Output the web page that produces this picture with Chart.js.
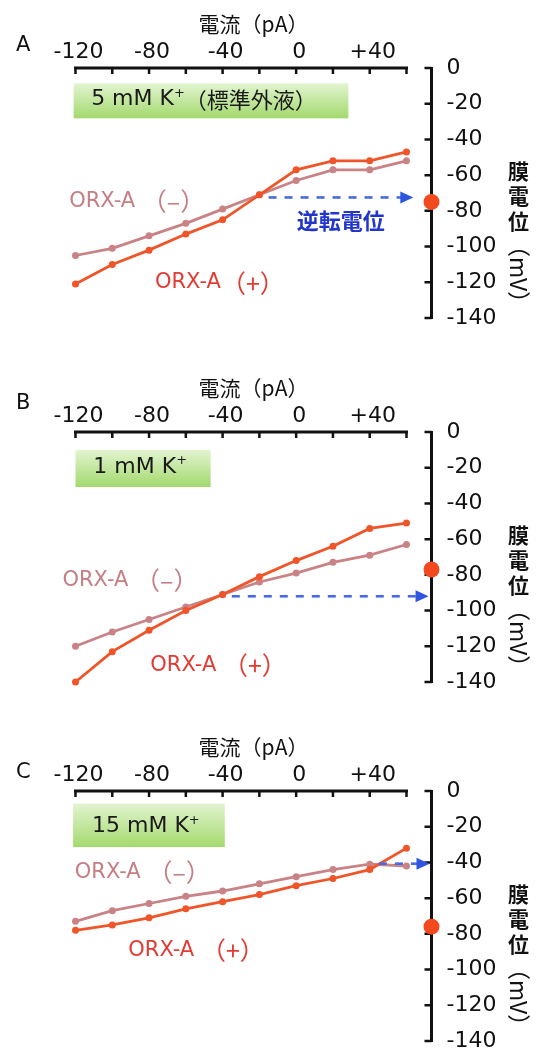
<!DOCTYPE html>
<html><head><meta charset="utf-8">
<script src="https://cdn.jsdelivr.net/npm/chart.js@4.4.1/dist/chart.umd.min.js"></script>
<style>
html,body{margin:0;padding:0;background:#fff;width:539px;height:1054px;overflow:hidden;}
.panel{position:absolute;left:0;width:539px;height:331px;}
canvas{display:block;}
</style></head><body>
<div class="panel" style="top:0px"><canvas id="cA" width="539" height="331"></canvas></div>
<div class="panel" style="top:364px"><canvas id="cB" width="539" height="331"></canvas></div>
<div class="panel" style="top:723px"><canvas id="cC" width="539" height="331"></canvas></div>
<script>
// ---------- data ----------
const currents = [-120, -100, -80, -60, -40, -20, 0, 20, 40, 60]; // pA
const aMinus = [-105, -101, -94, -87, -79, -71, -63, -57, -57, -52];
const aPlus  = [-121, -110, -102, -93, -85, -71, -57, -52, -52, -47];
const bMinus = [-120, -112, -105, -98, -91, -84, -79, -73, -69, -63];
const bPlus  = [-140, -123, -111, -100, -91, -81, -72, -64, -54, -51];
const cMinus = [-73, -67, -63, -59, -56, -52, -48, -44, -41, -42];
const cPlus  = [-78, -75, -71, -66, -62, -58, -53, -49, -44, -32];
const restingPotentials = [-75, -77, -76];      // red dot on the axis (mV)
const reversalPotentials = [-72.5, -92, -40.7]; // blue arrow level (mV)
const reversalCurrents = [-15, -35, 45];        // where the arrow starts (pA)

const xTickValues = [-120, -80, -40, 0, 40];
const xTickLabels = ['-120', '-80', '-40', '0', '+40'];
const yTickValues = [0, -20, -40, -60, -80, -100, -120, -140];
const yTickLabels = ['0', '-20', '-40', '-60', '-80', '-100', '-120', '-140'];
const xTitle = '電流（pA）';
const yTitleChars = ['膜', '電', '位'];
const yTitleUnit = '（mV）';
const panelLetters = ['A', 'B', 'C'];
const mediumMain = ['5 mM K', '1 mM K', '15 mM K'];
const mediumSuffix = ['（標準外液）', '', ''];
const minusLabel = ['ORX-A ', 'ORX-A ', 'ORX-A '];
const plusLabel = ['ORX-A', 'ORX-A ', 'ORX-A '];
const reversalText = '逆転電位';

// ---------- style ----------
const SANS = "'DejaVu Sans', 'Noto Sans CJK JP', sans-serif";
const CJK = "'Noto Sans CJK JP', 'DejaVu Sans', sans-serif";
const PLUS = '#ef5529';
const MINUS = '#c98285';
const PLUS_TXT = '#e33b33';
const MINUS_TXT = '#c47e84';
const BLUE = '#2f55e0';

// annotation placement in data units
const layouts = [
  {box: [-121, 28.4, -8.6, -28.2], boxText: [-111.5, -17.6], minus: [-123.4, -75], plus: [-76.8, -120.4],
   arrowTo: 63.7, revText: [0.3, -85.7], letterDy: 22},
  {box: [-120, -46.5, -10, -30.8], boxText: [-110.3, -19.5], minus: [-127.1, -83.1], plus: [-79.3, -130.7],
   arrowTo: 72, revText: null, letterDy: 28},
  {box: [-121.3, -38.8, -7.1, -31.4], boxText: [-111, -19.8], minus: [-120.4, -45.4], plus: [-91.3, -89.3],
   arrowTo: 72.5, revText: null, letterDy: 18}
];

function drawRuns(ctx, x, y, runs) {
  ctx.textAlign = 'left';
  ctx.textBaseline = 'middle';
  for (const r of runs) {
    if (!r.text) continue;
    ctx.font = r.font;
    ctx.fillStyle = r.color;
    ctx.fillText(r.text, x, y + (r.dy || 0));
    x += ctx.measureText(r.text).width;
  }
}

const decor = {
  id: 'decor',
  beforeDatasetsDraw(chart, args, o) {
    const {ctx, scales: {x, y}} = chart;
    const L = layouts[o.i];
    ctx.save();
    const bx0 = x.getPixelForValue(L.box[0]), bx1 = x.getPixelForValue(L.box[1]);
    const by0 = y.getPixelForValue(L.box[2]), by1 = y.getPixelForValue(L.box[3]);
    const g = ctx.createLinearGradient(0, by0, 0, by1);
    g.addColorStop(0, '#e2f4d0');
    g.addColorStop(1, '#a3d96d');
    ctx.fillStyle = g;
    ctx.fillRect(bx0, by0, bx1 - bx0, by1 - by0);
    drawRuns(ctx, x.getPixelForValue(L.boxText[0]), y.getPixelForValue(L.boxText[1]), [
      {text: mediumMain[o.i], font: '22px ' + SANS, color: '#1a1a1a'},
      {text: '+', font: '13px ' + SANS, color: '#1a1a1a', dy: -6},
      {text: mediumSuffix[o.i], font: '22px ' + CJK, color: '#1a1a1a'}
    ]);
    ctx.restore();
  },
  afterDatasetsDraw(chart, args, o) {
    const {ctx, chartArea: ca, scales: {x, y}} = chart;
    const L = layouts[o.i];
    ctx.save();
    // top x axis line with downward ticks
    const ticks = x.ticks.map(t => t.value);
    const xl = x.getPixelForValue(ticks[0]);
    const xr = x.getPixelForValue(ticks[ticks.length - 1]);
    ctx.strokeStyle = '#111';
    ctx.lineWidth = 3;
    ctx.beginPath();
    ctx.moveTo(xl - 1.5, ca.top);
    ctx.lineTo(xr + 1.5, ca.top);
    ctx.stroke();
    ctx.lineWidth = 2.5;
    ctx.beginPath();
    ticks.forEach(v => { const px = x.getPixelForValue(v); ctx.moveTo(px, ca.top); ctx.lineTo(px, ca.top + 6); });
    ctx.stroke();
    // y axis inward ticks
    ctx.beginPath();
    y.ticks.forEach(t => { const py = y.getPixelForValue(t.value); ctx.moveTo(ca.right - 7, py); ctx.lineTo(ca.right, py); });
    ctx.stroke();

    // series labels
    drawRuns(ctx, x.getPixelForValue(L.minus[0]), y.getPixelForValue(L.minus[1]), [
      {text: minusLabel[o.i], font: '21px ' + SANS, color: MINUS_TXT},
      {text: '（–）', font: '25px ' + CJK, color: MINUS_TXT}
    ]);
    drawRuns(ctx, x.getPixelForValue(L.plus[0]), y.getPixelForValue(L.plus[1]), [
      {text: plusLabel[o.i], font: '21px ' + SANS, color: PLUS_TXT},
      {text: '（+）', font: '25px ' + CJK, color: PLUS_TXT}
    ]);

    // reversal potential arrow
    const ay = y.getPixelForValue(reversalPotentials[o.i]);
    const ax0 = x.getPixelForValue(reversalCurrents[o.i]);
    const ax1 = x.getPixelForValue(L.arrowTo);
    ctx.strokeStyle = '#4a6ae2';
    ctx.lineWidth = 2.6;
    ctx.setLineDash([8, 8]);
    ctx.beginPath();
    ctx.moveTo(ax0, ay);
    ctx.lineTo(ax1 - 12, ay);
    ctx.stroke();
    ctx.setLineDash([]);
    ctx.fillStyle = BLUE;
    ctx.beginPath();
    ctx.moveTo(ax1, ay);
    ctx.lineTo(ax1 - 13, ay - 6);
    ctx.lineTo(ax1 - 13, ay + 6);
    ctx.closePath();
    ctx.fill();
    if (L.revText) {
      drawRuns(ctx, x.getPixelForValue(L.revText[0]), y.getPixelForValue(L.revText[1]), [
        {text: reversalText, font: 'bold 22px ' + CJK, color: '#2236cc'}
      ]);
    }

    // resting potential dot on the axis
    ctx.fillStyle = '#f24a1e';
    ctx.beginPath();
    ctx.arc(ca.right, y.getPixelForValue(restingPotentials[o.i]), 8, 0, Math.PI * 2);
    ctx.fill();

    // panel letter
    drawRuns(ctx, ca.left - 59.5, ca.top - L.letterDy, [
      {text: panelLetters[o.i], font: '21px ' + SANS, color: '#111'}
    ]);

    // vertical y title
    const tx = ca.right + 87;
    ctx.fillStyle = '#111';
    ctx.textAlign = 'center';
    ctx.textBaseline = 'middle';
    ctx.font = 'bold 21px ' + CJK;
    yTitleChars.forEach((c, i) => ctx.fillText(c, tx, ca.top + 103 + i * 25));
    ctx.translate(tx, ca.top + 166);
    ctx.rotate(Math.PI / 2);
    ctx.textAlign = 'left';
    ctx.font = '23px ' + CJK;
    ctx.fillText(yTitleUnit, 0, 0);
    ctx.restore();
  }
};

function series(vals) { return currents.map((c, i) => ({x: c, y: vals[i]})); }

function makeChart(id, i, minus, plus) {
  const line = (label, vals, col) => ({
    label, data: series(vals), borderColor: col, backgroundColor: col,
    pointBackgroundColor: col, pointBorderColor: col, pointBorderWidth: 0,
    pointRadius: 3.5, borderWidth: 2.8, tension: 0, clip: false, fill: false
  });
  return new Chart(document.getElementById(id), {
    type: 'line',
    data: {datasets: [line('ORX-A（+）', plus, PLUS), line('ORX-A（–）', minus, MINUS)]},
    options: {
      responsive: false, animation: false, devicePixelRatio: 1, events: [],
      layout: {padding: {left: 75.5, right: 0, top: 0, bottom: 13}},
      plugins: {legend: {display: false}, tooltip: {enabled: false}, decor: {i}},
      scales: {
        x: {
          type: 'linear', position: 'top', min: -120, max: 73.6,
          grid: {display: false, drawTicks: false}, border: {display: false},
          ticks: {
            stepSize: 20, includeBounds: false, autoSkip: false, maxRotation: 0, minRotation: 0,
            padding: 3, labelOffset: 3, color: '#111', font: {family: SANS, size: 22},
            callback: v => { const k = xTickValues.indexOf(v); return k >= 0 ? xTickLabels[k] : ''; }
          },
          title: {display: true, text: xTitle, color: '#111', font: {family: CJK, size: 21},
                  padding: {top: 11, bottom: 0}},
          afterFit(s) { s.height = 68; s.paddingLeft = 0; s.paddingRight = 0; }
        },
        y: {
          type: 'linear', position: 'right', min: -140, max: 0,
          grid: {display: false, drawTicks: false},
          border: {display: true, color: '#111', width: 3},
          ticks: {
            stepSize: 20, autoSkip: false, padding: 15, color: '#111', font: {family: SANS, size: 22},
            callback: v => { const k = yTickValues.indexOf(v); return k >= 0 ? yTickLabels[k] : ''; }
          },
          afterFit(s) { s.width = 107.5; s.paddingTop = 0; s.paddingBottom = 0; }
        }
      }
    },
    plugins: [decor]
  });
}

makeChart('cA', 0, aMinus, aPlus);
makeChart('cB', 1, bMinus, bPlus);
makeChart('cC', 2, cMinus, cPlus);
</script>
</body></html>
